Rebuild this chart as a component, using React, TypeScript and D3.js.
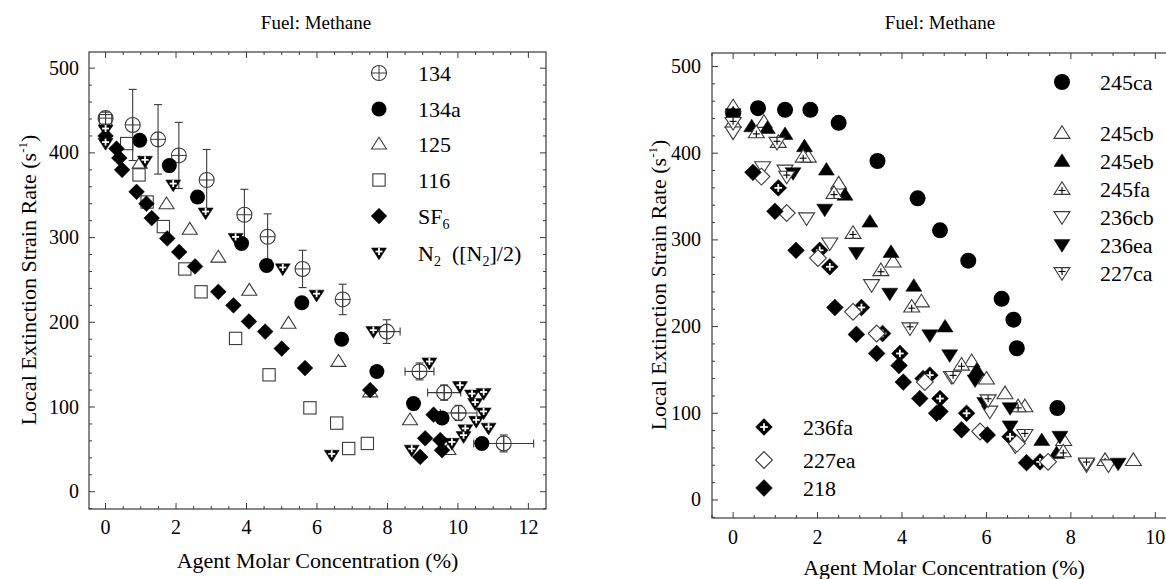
import React from 'react';
import * as d3 from 'd3';

// ---------------- Left panel data ----------------
const r134X = [0, 0.77, 1.49, 2.08, 2.87, 3.94, 4.6, 5.59, 6.73, 7.98, 8.91, 9.61, 10.02, 11.3];
const r134Y = [441, 433, 416, 397, 368, 327, 301, 263, 227, 189, 142, 117, 93, 57];
const r134YErr = [7, 42, 41, 39, 36, 30, 27, 22, 18, 14, 10, 9, 9, 10];
const r134XErr = [0, 0, 0, 0, 0, 0, 0, 0, 0, 0.38, 0.41, 0.47, 0.52, 0.85];

const r134aX = [0.97, 1.81, 2.61, 3.86, 4.57, 5.57, 6.7, 7.7, 8.74, 9.55, 10.68];
const r134aY = [415, 385, 348, 293, 267, 223, 180, 142, 104, 87, 57];

const r125X = [0.97, 1.73, 2.39, 3.2, 4.08, 5.19, 6.61, 7.51, 8.64, 9.73];
const r125Y = [388, 340, 310, 277, 238, 199, 154, 118, 85, 50];

const r116X = [0, 0.6, 0.95, 1.18, 1.64, 2.25, 2.71, 3.69, 4.64, 5.8, 6.56, 6.9, 7.43];
const r116Y = [438, 411, 374, 342, 313, 263, 236, 181, 138, 99, 81, 51, 57];

const sf6X = [0, 0.31, 0.39, 0.47, 0.88, 1.16, 1.31, 1.75, 2.09, 2.54, 3.2, 3.63, 4.07, 4.53, 5.0, 5.66, 7.51, 9.31, 9.07, 9.5, 8.93, 9.55];
const sf6Y = [420, 405, 394, 380, 354, 340, 323, 299, 283, 266, 236, 220, 201, 189, 169, 146, 120, 91, 63, 61, 41, 49];

const n2X = [0, 0, 1.12, 1.92, 2.84, 3.69, 5.03, 5.99, 7.6, 9.19, 10.06, 10.4, 10.73, 10.49, 10.73, 10.52, 10.87, 10.21, 10.16, 9.83, 8.69, 6.42];
const n2Y = [427, 411, 390, 362, 329, 299, 263, 232, 189, 152, 124, 114, 116, 104, 93, 83, 75, 73, 65, 57, 49, 43];

// ---------------- Right panel data ----------------
const r245caX = [0, 0.59, 1.23, 1.83, 2.5, 3.42, 4.37, 4.9, 5.57, 6.36, 6.64, 6.72, 7.68];
const r245caY = [446, 452, 450, 450, 435, 391, 348, 311, 276, 232, 208, 175, 106];

const r245cbX = [0, 0.73, 1.78, 2.5, 3.79, 4.46, 5.65, 6.0, 6.44, 6.91, 7.83, 9.48];
const r245cbY = [454, 436, 396, 365, 275, 229, 160, 140, 123, 108, 69, 46];

const r245ebX = [0, 0.44, 0.81, 1.23, 1.69, 2.21, 2.65, 3.24, 3.74, 4.28, 5.02, 5.77, 7.31, 7.66];
const r245ebY = [446, 431, 429, 422, 408, 381, 352, 321, 286, 247, 200, 150, 69, 54];

const r245faX = [0, 0.55, 1.07, 1.66, 2.39, 2.84, 3.5, 4.23, 5.41, 6.75, 7.82, 8.81];
const r245faY = [436, 424, 413, 396, 354, 308, 265, 223, 156, 108, 56, 46];

const r236cbX = [0, 0.7, 1.23, 1.74, 2.29, 3.28, 5.17, 6.08, 6.68, 8.37, 8.89];
const r236cbY = [424, 384, 380, 325, 296, 248, 142, 102, 62, 40, 40];

const r236eaX = [0, 1.42, 2.17, 2.92, 3.71, 4.66, 5.13, 5.73, 5.96, 6.56, 6.56, 7.74, 9.12];
const r236eaY = [445, 377, 335, 285, 238, 190, 167, 138, 112, 106, 85, 73, 42];

const r227caX = [0, 1.04, 1.27, 4.19, 5.21, 6.04, 6.91, 8.37];
const r227caY = [435, 412, 373, 198, 142, 115, 75, 42];

const r236faX = [1.07, 2.05, 2.29, 3.04, 3.54, 3.95, 4.5, 4.66, 4.9, 5.53, 6.56, 7.27];
const r236faY = [360, 288, 269, 222, 192, 169, 140, 144, 117, 100, 73, 44];

const r227eaX = [0.67, 1.27, 2.01, 2.84, 3.4, 4.54, 5.85, 6.72, 7.46];
const r227eaY = [373, 331, 279, 217, 192, 136, 79, 65, 44];

const r218X = [0.47, 0.99, 1.49, 2.41, 2.92, 3.4, 3.93, 4.03, 4.42, 4.82, 4.9, 5.41, 6.02, 6.95];
const r218Y = [378, 333, 288, 222, 191, 169, 155, 136, 117, 100, 102, 81, 75, 43];

// ---------------- Labels ----------------
const titleText = 'Fuel: Methane';
const xTitle = 'Agent Molar Concentration (%)';
const yTitleMain = 'Local Extinction Strain Rate (s';
const leftXTicks = [0, 2, 4, 6, 8, 10, 12];
const rightXTicks = [0, 2, 4, 6, 8, 10];
const yTicks = [0, 100, 200, 300, 400, 500];

const FONT = "'Liberation Serif', 'DejaVu Serif', serif";
const STROKE = '#3a3a3a';

type Kind =
  | 'circleCross' | 'circle' | 'triUp' | 'triUpFill' | 'triUpPlus'
  | 'triDown' | 'triDownFill' | 'triDownPlus' | 'triDownFillPlus'
  | 'square' | 'diamond' | 'diamondFill' | 'diamondFillPlus';

function Marker({ kind, x, y, s = 8 }: { kind: Kind; x: number; y: number; s?: number }) {
  const open = { fill: '#fff', stroke: STROKE, strokeWidth: 1.1 };
  const fill = { fill: '#000', stroke: '#000', strokeWidth: 0.5 };
  const h = s * 0.9;
  const up = `M${x},${y - h} L${x + s},${y + h * 0.75} L${x - s},${y + h * 0.75} Z`;
  const down = `M${x},${y + h} L${x + s},${y - h * 0.75} L${x - s},${y - h * 0.75} Z`;
  const d = s * 1.05;
  const dia = `M${x},${y - d} L${x + d},${y} L${x},${y + d} L${x - d},${y} Z`;
  const plus = (cx: number, cy: number, a: number, col: string, w: number) => (
    <g stroke={col} strokeWidth={w}>
      <line x1={cx - a} x2={cx + a} y1={cy} y2={cy} />
      <line x1={cx} x2={cx} y1={cy - a} y2={cy + a} />
    </g>
  );
  switch (kind) {
    case 'circleCross':
      return (
        <g>
          <circle cx={x} cy={y} r={s} {...open} fill="none" />
          <line x1={x - s} x2={x + s} y1={y} y2={y} stroke={STROKE} strokeWidth={1} />
          <line x1={x} x2={x} y1={y - s} y2={y + s} stroke={STROKE} strokeWidth={1} />
        </g>
      );
    case 'circle':
      return <circle cx={x} cy={y} r={s} fill="#000" />;
    case 'triUp':
      return <path d={up} {...open} />;
    case 'triUpFill':
      return <path d={up} {...fill} />;
    case 'triUpPlus':
      return (
        <g>
          <path d={up} {...open} />
          {plus(x, y + 1.5, 3.5, '#000', 1.1)}
        </g>
      );
    case 'triDown':
      return <path d={down} {...open} />;
    case 'triDownFill':
      return <path d={down} {...fill} />;
    case 'triDownPlus':
      return (
        <g>
          <path d={down} {...open} />
          {plus(x, y - 1.5, 3.5, '#000', 1.1)}
        </g>
      );
    case 'triDownFillPlus':
      return (
        <g>
          <path d={down} {...fill} />
          {plus(x, y - 1.5, 3.5, '#fff', 1.8)}
        </g>
      );
    case 'square':
      return <rect x={x - s * 0.82} y={y - s * 0.82} width={s * 1.64} height={s * 1.64} {...open} fill="none" />;
    case 'diamond':
      return <path d={dia} {...open} />;
    case 'diamondFill':
      return <path d={dia} {...fill} />;
    case 'diamondFillPlus':
      return (
        <g>
          <path d={dia} {...fill} />
          {plus(x, y, 3.8, '#fff', 1.8)}
        </g>
      );
  }
  return null;
}

interface Series {
  name: React.ReactNode;
  kind: Kind;
  xs: number[];
  ys: number[];
  xErr?: number[];
  yErr?: number[];
}

interface PanelCfg {
  left: number; right: number; top: number; bottom: number;
  xDom: [number, number]; yDom: [number, number];
  xTicks: number[];
  titleX: number;
  xTitleY: number;
  xTickY: number;
  yTickX: number;
  yTitleX: number;
  yTitleY: number;
  ms: number;
}

function Panel({ cfg, series }: { cfg: PanelCfg; series: Series[] }) {
  const x = d3.scaleLinear().domain(cfg.xDom).range([cfg.left, cfg.right]);
  const y = d3.scaleLinear().domain(cfg.yDom).range([cfg.bottom, cfg.top]);
  const minorX = d3.range(Math.ceil(cfg.xDom[0] * 2) / 2, cfg.xDom[1], 0.5);
  const minorY = d3.range(Math.ceil(cfg.yDom[0] / 20) * 20, cfg.yDom[1], 20);
  const isMajX = (v: number) => Math.abs(v / 2 - Math.round(v / 2)) < 1e-6;
  const isMajY = (v: number) => Math.abs(v / 100 - Math.round(v / 100)) < 1e-6;
  const cx = (cfg.left + cfg.right) / 2;
  return (
    <g>
      <text x={cfg.titleX} y={29} textAnchor="middle" fontSize={19}>{titleText}</text>
      {minorX.map((v, i) => {
        const L = isMajX(v) ? 6 : 3;
        return (
          <g key={'tx' + i} stroke={STROKE} strokeWidth={1}>
            <line x1={x(v)} x2={x(v)} y1={cfg.bottom} y2={cfg.bottom - L} />
            <line x1={x(v)} x2={x(v)} y1={cfg.top} y2={cfg.top + L} />
          </g>
        );
      })}
      {minorY.map((v, i) => {
        const L = isMajY(v) ? 6 : 3;
        return (
          <g key={'ty' + i} stroke={STROKE} strokeWidth={1}>
            <line x1={cfg.left} x2={cfg.left + L} y1={y(v)} y2={y(v)} />
            <line x1={cfg.right} x2={cfg.right - L} y1={y(v)} y2={y(v)} />
          </g>
        );
      })}
      <rect x={cfg.left} y={cfg.top} width={cfg.right - cfg.left} height={cfg.bottom - cfg.top}
        fill="none" stroke={STROKE} strokeWidth={1.2} />
      {cfg.xTicks.map((v) => (
        <text key={'xl' + v} x={x(v)} y={cfg.xTickY} textAnchor="middle" fontSize={20}>{v}</text>
      ))}
      {yTicks.map((v) => (
        <text key={'yl' + v} x={cfg.yTickX} y={y(v) + 6.5} textAnchor="end" fontSize={20}>{v}</text>
      ))}
      <text x={cx} y={cfg.xTitleY} textAnchor="middle" fontSize={22}>{xTitle}</text>
      <text transform={`translate(${cfg.yTitleX},${cfg.yTitleY}) rotate(-90)`} textAnchor="middle" fontSize={22}>
        {yTitleMain}
        <tspan fontSize={13} dy={-9}>-1</tspan>
        <tspan dy={9}>)</tspan>
      </text>
      {series.map((s, si) =>
        s.xs.map((xv, i) => {
          const ye = s.yErr ? s.yErr[i] : 0;
          const xe = s.xErr ? s.xErr[i] : 0;
          const px = x(xv), py = y(s.ys[i]);
          return (
            <g key={`e${si}-${i}`} stroke={STROKE} strokeWidth={1.1}>
              {ye > 0 && (
                <g>
                  <line x1={px} x2={px} y1={y(s.ys[i] + ye)} y2={y(s.ys[i] - ye)} />
                  <line x1={px - 4} x2={px + 4} y1={y(s.ys[i] + ye)} y2={y(s.ys[i] + ye)} />
                  <line x1={px - 4} x2={px + 4} y1={y(s.ys[i] - ye)} y2={y(s.ys[i] - ye)} />
                </g>
              )}
              {xe > 0 && (
                <g>
                  <line x1={x(xv - xe)} x2={x(xv + xe)} y1={py} y2={py} />
                  <line x1={x(xv - xe)} x2={x(xv - xe)} y1={py - 4} y2={py + 4} />
                  <line x1={x(xv + xe)} x2={x(xv + xe)} y1={py - 4} y2={py + 4} />
                </g>
              )}
            </g>
          );
        })
      )}
      {series.map((s, si) =>
        s.xs.map((xv, i) => <Marker key={`m${si}-${i}`} kind={s.kind} x={x(xv)} y={y(s.ys[i])} s={cfg.ms} />)
      )}
    </g>
  );
}

function Legend({ items, mx, tx, rows, ms }: { items: Series[]; mx: number; tx: number; rows: number[]; ms: number }) {
  return (
    <g>
      {items.map((s, i) => (
        <g key={'lg' + i}>
          <Marker kind={s.kind} x={mx} y={rows[i]} s={ms} />
          <text x={tx} y={rows[i] + 7.5} fontSize={22}>{s.name}</text>
        </g>
      ))}
    </g>
  );
}

export default function App() {
  const leftSeries: Series[] = [
    { name: '134', kind: 'circleCross', xs: r134X, ys: r134Y, yErr: r134YErr, xErr: r134XErr },
    { name: '134a', kind: 'circle', xs: r134aX, ys: r134aY },
    { name: '125', kind: 'triUp', xs: r125X, ys: r125Y },
    { name: '116', kind: 'square', xs: r116X, ys: r116Y },
    { name: <>SF<tspan fontSize={14} dy={5}>6</tspan></>, kind: 'diamondFill', xs: sf6X, ys: sf6Y },
    {
      name: <>N<tspan fontSize={14} dy={5}>2</tspan><tspan dy={-5}>{'\u00a0\u00a0([N'}</tspan><tspan fontSize={14} dy={5}>2</tspan><tspan dy={-5}>]/2)</tspan></>,
      kind: 'triDownFillPlus', xs: n2X, ys: n2Y,
    },
  ];
  const rightSeries: Series[] = [
    { name: '245ca', kind: 'circle', xs: r245caX, ys: r245caY },
    { name: '245cb', kind: 'triUp', xs: r245cbX, ys: r245cbY },
    { name: '245eb', kind: 'triUpFill', xs: r245ebX, ys: r245ebY },
    { name: '245fa', kind: 'triUpPlus', xs: r245faX, ys: r245faY },
    { name: '236cb', kind: 'triDown', xs: r236cbX, ys: r236cbY },
    { name: '236ea', kind: 'triDownFill', xs: r236eaX, ys: r236eaY },
    { name: '227ca', kind: 'triDownPlus', xs: r227caX, ys: r227caY },
    { name: '236fa', kind: 'diamondFillPlus', xs: r236faX, ys: r236faY },
    { name: '227ea', kind: 'diamond', xs: r227eaX, ys: r227eaY },
    { name: '218', kind: 'diamondFill', xs: r218X, ys: r218Y },
  ];
  const leftCfg: PanelCfg = {
    left: 89, right: 546, top: 52, bottom: 509,
    xDom: [-0.47, 12.5], yDom: [-20.4, 519.1], xTicks: leftXTicks,
    titleX: 316, xTitleY: 568, xTickY: 534, yTickX: 79, yTitleX: 36, yTitleY: 280, ms: 7.5,
  };
  const rightCfg: PanelCfg = {
    left: 712, right: 1176, top: 53, bottom: 518,
    xDom: [-0.5, 10.49], yDom: [-20.8, 515.6], xTicks: rightXTicks,
    titleX: 940, xTitleY: 575, xTickY: 544, yTickX: 701, yTitleX: 666, yTitleY: 285, ms: 8,
  };
  return (
    <svg width={1166} height={579}
      style={{ display: 'block', position: 'absolute', left: 0, top: 0, background: '#fff', fontFamily: FONT }}>
      <rect width={1166} height={579} fill="#fff" />
      <Panel cfg={leftCfg} series={leftSeries} />
      <Panel cfg={rightCfg} series={rightSeries} />
      <Legend items={leftSeries} mx={379} tx={418} rows={[73, 109, 144, 180, 216, 253]} ms={7.5} />
      <Legend items={rightSeries.slice(0, 7)} mx={1062} tx={1100} rows={[82, 133, 161, 189, 217, 245, 273]} ms={8} />
      <Legend items={rightSeries.slice(7)} mx={764} tx={803} rows={[427, 460, 488]} ms={8} />
    </svg>
  );
}
